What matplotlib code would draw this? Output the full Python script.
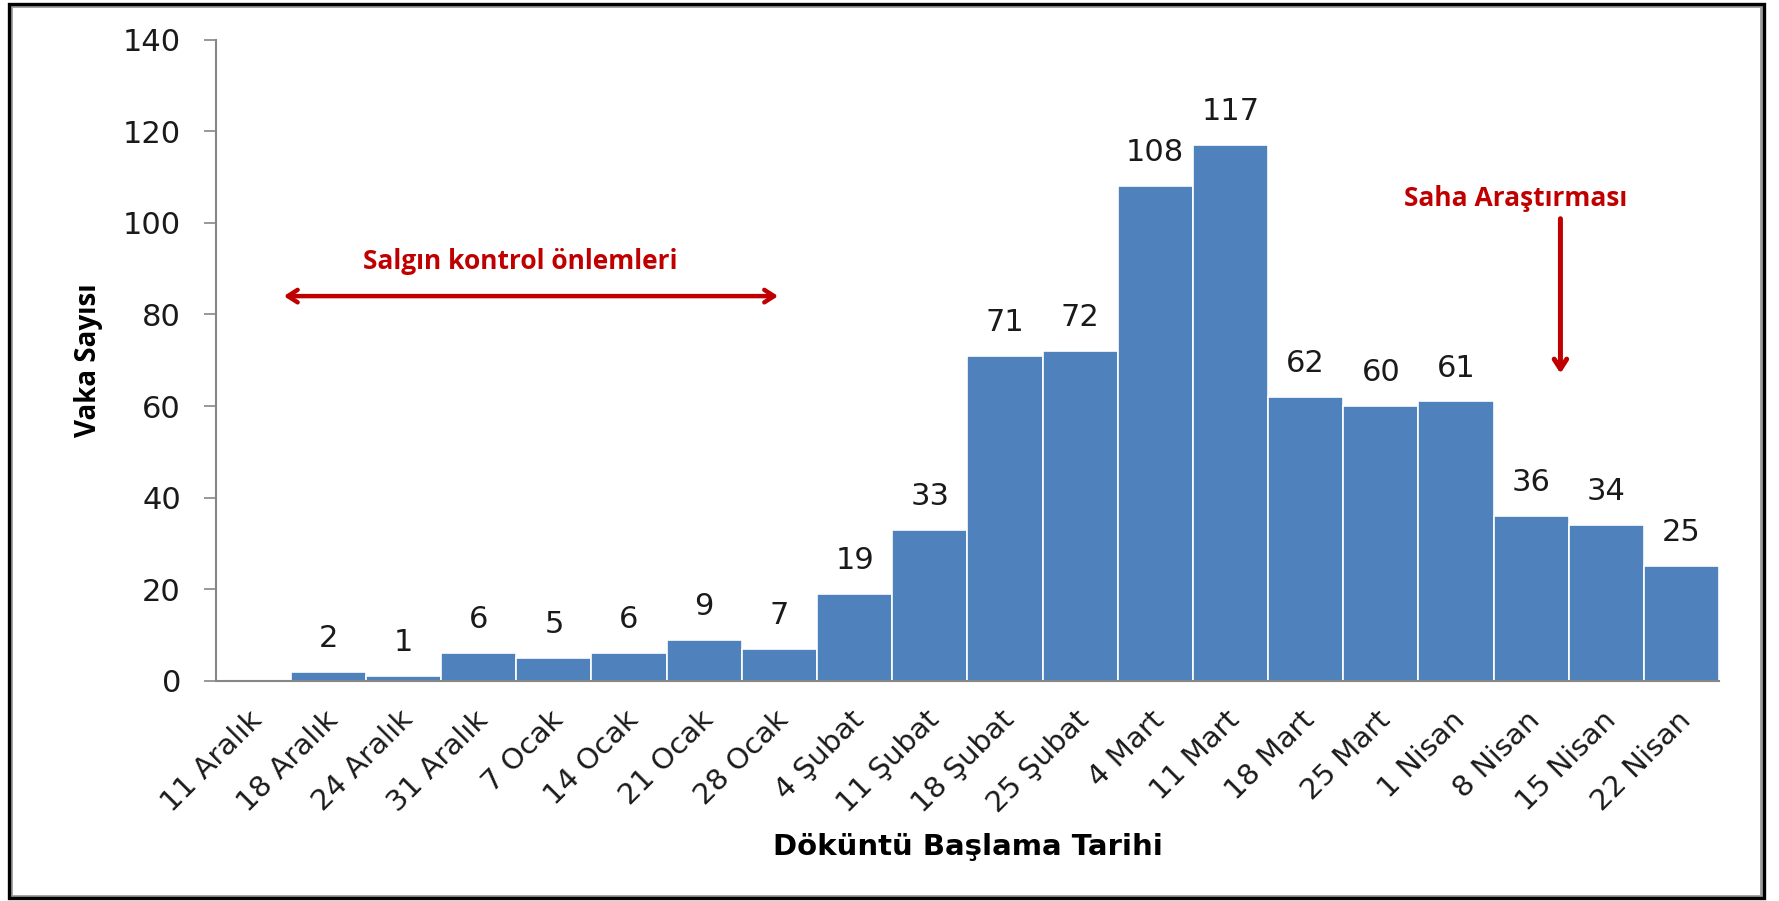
import numpy as np
import matplotlib.pyplot as plt
import matplotlib.transforms as mtransforms
from matplotlib.patches import Rectangle

# weekly case counts by rash onset date
dates = ['11 Aralık', '18 Aralık', '24 Aralık', '31 Aralık', '7 Ocak', '14 Ocak',
         '21 Ocak', '28 Ocak', '4 Şubat', '11 Şubat', '18 Şubat', '25 Şubat',
         '4 Mart', '11 Mart', '18 Mart', '25 Mart', '1 Nisan', '8 Nisan',
         '15 Nisan', '22 Nisan']
cases = [0, 2, 1, 6, 5, 6, 9, 7, 19, 33, 71, 72, 108, 117, 62, 60, 61, 36, 34, 25]
yticks = [0, 20, 40, 60, 80, 100, 120, 140]

# annotation anchors (category index, case count)
control_span = (0.37, 7.02, 84)
control_text = (3.55, 91.5)
field_arrow = (17.39, 101.5, 66.5)
field_text = (16.79, 105.3)

blue = '#4F81BD'
red = '#C00000'
grey = '#868686'
ink = '#1a1a1a'

plt.rcParams['font.family'] = ['Open Sans', 'DejaVu Sans']
wide = 'DejaVu Sans'

fig = plt.figure(figsize=(17.79, 9.01), dpi=100)
ax = fig.add_axes([0.1212, 0.2444, 0.9663 - 0.1212, 0.956 - 0.2444])

x = np.arange(len(dates))
ax.bar(x, cases, width=1.0, color=blue, edgecolor='white', linewidth=1.2)

for xi, v in zip(x, cases):
    if v > 0:
        ax.annotate(str(v), (xi, v), xytext=(0, 24), textcoords='offset points',
                    ha='center', va='center', fontsize=22, color=ink, family=wide)

ax.set_xlim(-0.5, len(dates) - 0.5)
ax.set_ylim(0, 140)
ax.set_yticks(yticks)
ax.tick_params(axis='y', length=9, width=1.2, color=grey, pad=16)
for lab in ax.get_yticklabels():
    lab.set_fontsize(22)
    lab.set_family(wide)
    lab.set_color(ink)

ax.set_xticks(x)
ax.set_xticklabels(dates, rotation=45, ha='right', va='center',
                   rotation_mode='anchor', fontsize=21, color=ink, family=wide)
ax.tick_params(axis='x', length=0, pad=25)
shift = mtransforms.ScaledTranslation(5 / 100, 0, fig.dpi_scale_trans)
for lab in ax.get_xticklabels():
    lab.set_transform(lab.get_transform() + shift)

for s in ['top', 'right']:
    ax.spines[s].set_visible(False)
for s in ['left', 'bottom']:
    ax.spines[s].set_color(grey)
    ax.spines[s].set_linewidth(1.5)

ax.set_ylabel('Vaka Sayısı', fontsize=20, fontweight='bold')
ax.yaxis.set_label_coords(-0.075, 0.5)
ax.set_xlabel('Döküntü Başlama Tarihi', fontsize=21, fontweight='bold', family=wide)
ax.xaxis.set_label_coords(0.5005, -0.238)

# control measures period
ax.annotate('', xy=(control_span[0], control_span[2]), xytext=(control_span[1], control_span[2]),
            arrowprops=dict(arrowstyle='<->,head_length=0.7,head_width=0.45', color=red, lw=3.2))
ax.text(control_text[0], control_text[1], 'Salgın kontrol önlemleri', color=red,
        fontsize=19, fontweight='bold', ha='center', va='center')

# field investigation
ax.annotate('', xy=(field_arrow[0], field_arrow[2]), xytext=(field_arrow[0], field_arrow[1]),
            arrowprops=dict(arrowstyle='->,head_length=0.7,head_width=0.45', color=red, lw=3.6))
ax.text(field_text[0], field_text[1], 'Saha Araştırması', color=red,
        fontsize=19, fontweight='bold', ha='center', va='center')

# picture frame
fig.patches.append(Rectangle((11 / 1779, 5 / 901), 1750 / 1779, 890 / 901,
                             transform=fig.transFigure, fill=False,
                             edgecolor='#9a9a9a', linewidth=2.0))
fig.patches.append(Rectangle((9 / 1779, 3 / 901), 1755 / 1779, 894 / 901,
                             transform=fig.transFigure, fill=False,
                             edgecolor='black', linewidth=2.4))

fig.savefig('out.png', dpi=100)
